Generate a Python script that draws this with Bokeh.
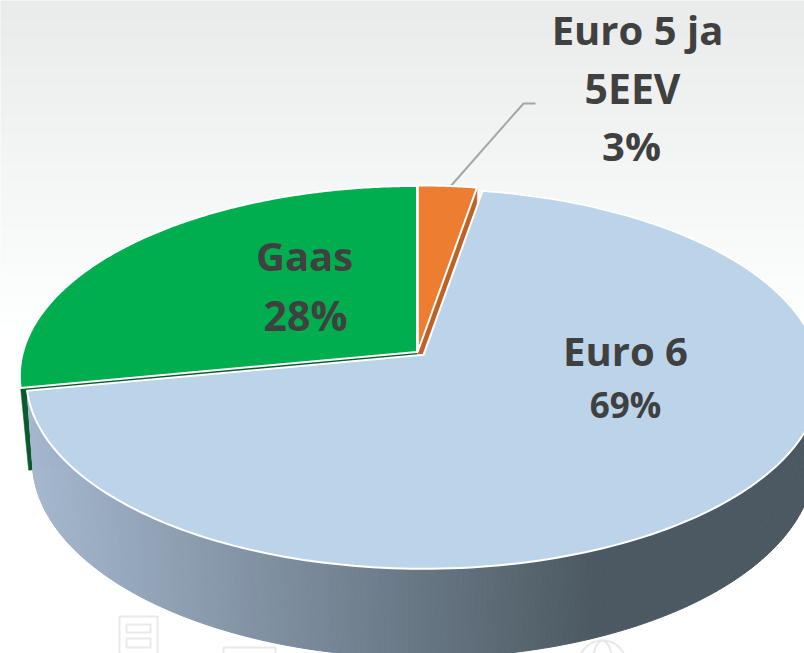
import numpy as np
from bokeh.plotting import figure
from bokeh.models import Range1d, ColumnDataSource
from bokeh.core.properties import value
from bokeh.embed import file_html
from bokeh.resources import INLINE

# ---- data
categories = ["Euro 5 ja 5EEV", "Euro 6", "Gaas"]
shares = [2.7, 69.3, 28.0]
slice_colors = ["#ED7D31", "#BBD4EA", "#00AE4F"]
edge_colors = ["#BE6226", "#4C5962", "#0A5A2C"]
label_lines = ["Euro 5 ja", "5EEV", "3%", "Gaas", "28%", "Euro 6", "69%"]
label_x = [637, 632, 631, 304, 305, 625, 625]
label_y = [29, 87, 145, 255, 314, 350, 404]
label_px = [40, 41, 40, 40, 41, 40, 35]

# ---- pie geometry (pixel space of the picture)
CX, CY = 417.0, 351.5
A, B, K = 394.0, 187.0, 0.126
DEPTH, A2, B2 = 81.0, 388.0, 194.0
offsets = [(0.3, -0.5), (6.0, 2.8), (-0.5, 0.0)]


def top(th, off):
    w = 1 + K * np.cos(th)
    return CX + off[0] + A * np.sin(th) / w, CY + off[1] - B * np.cos(th) / w


def bottom(th, off, a2=A2):
    w = 1 + K * np.cos(th)
    return (CX + off[0] + a2 * np.sin(th) / w,
            CY + off[1] + DEPTH - B2 * np.cos(th) / w)


edges = np.radians(np.cumsum([0] + shares) * 3.6)

p = figure(width=804, height=653, x_range=Range1d(0, 804), y_range=Range1d(653, 0),
           toolbar_location=None, output_backend="svg", min_border=0,
           outline_line_color=None, background_fill_color="#FFFFFF")
p.axis.visible = False
p.grid.visible = False

# background gradient: light grey fading to white
band = np.arange(0, 340, 6.0)
t = band / 340
shade = (234 + 21 * t).astype(int)
p.quad(left=-10, right=820, top=band - (band == 0) * 10, bottom=band + 6.5,
       fill_color=[f"#{s:02x}{s+1 if s < 255 else s:02x}{s+1 if s < 255 else s:02x}" for s in shade],
       line_color=None)

# faint icons behind the pie
icon = "#E9E9E9"
p.multi_line(xs=[[119, 119, 157, 157, 119], [126, 150, 150, 126, 126], [126, 150, 150, 126, 126],
                 [223, 223, 275, 275]],
             ys=[[660, 616, 616, 660, 660], [624, 624, 632, 632, 624], [638, 638, 647, 647, 638],
                 [660, 647, 647, 660]],
             line_color=icon, line_width=2)
th = np.linspace(0, 2 * np.pi, 60)
p.multi_line(xs=[list(602 + 24 * np.sin(th)), list(602 + 10 * np.sin(th))],
             ys=[list(664 + 24 * np.cos(th)), list(664 + 24 * np.cos(th))],
             line_color=icon, line_width=2)

# leader line
p.line(x=[449, 523, 535], y=[187, 103, 103], line_color="#A6A6A6", line_width=2)

# cut walls of the green and the orange slices
for ang, off, col, a2 in [(edges[2], offsets[2], edge_colors[2], 386.0),
                          (edges[1], offsets[0], edge_colors[0], A2)]:
    tx, ty = top(ang, off)
    bx, by = bottom(ang, off, a2)
    p.patch(x=[CX + off[0], tx, bx, CX + off[0]], y=[CY + off[1], ty, by, CY + off[1] + DEPTH],
            fill_color=col, line_color=col, line_width=0.5)

# outer wall of the blue slice, shaded by horizontal position
ang = np.linspace(edges[1], edges[2], 321)
xs, ys, cols = [], [], []
c0, c1 = np.array([166, 185, 208]), np.array([76, 89, 98])
for a0, a1 in zip(ang[:-1], ang[1:]):
    ta = top(np.array([a0, a1]), offsets[1])
    ba = bottom(np.array([a1, a0]), offsets[1])
    xs.append(list(ta[0]) + list(ba[0]))
    ys.append(list(ta[1]) + list(ba[1]))
    f = np.clip((ba[0].mean() - 30) / 565, 0, 1)
    c = (c0 + (c1 - c0) * f).astype(int)
    cols.append("#%02x%02x%02x" % tuple(c))
p.patches(xs=xs, ys=ys, fill_color=cols, line_color=cols, line_width=1)

# top faces
for i in [2, 0, 1]:
    ang = np.linspace(edges[i], edges[i + 1], 200)
    x, y = top(ang, offsets[i])
    p.patch(x=[CX + offsets[i][0]] + list(x), y=[CY + offsets[i][1]] + list(y),
            fill_color=slice_colors[i], line_color="#FFFFFF", line_width=2, line_join="round")

# labels
src = ColumnDataSource(dict(x=label_x, y=label_y, text=label_lines,
                            size=[f"{s}px" for s in label_px]))
p.text(x="x", y="y", text="text", source=src, text_font=value("Open Sans"),
       text_font_style="bold", text_font_size="size", text_color="#404040",
       text_align="center", text_baseline="middle")

open("out.html", "w").write(file_html(p, INLINE))
